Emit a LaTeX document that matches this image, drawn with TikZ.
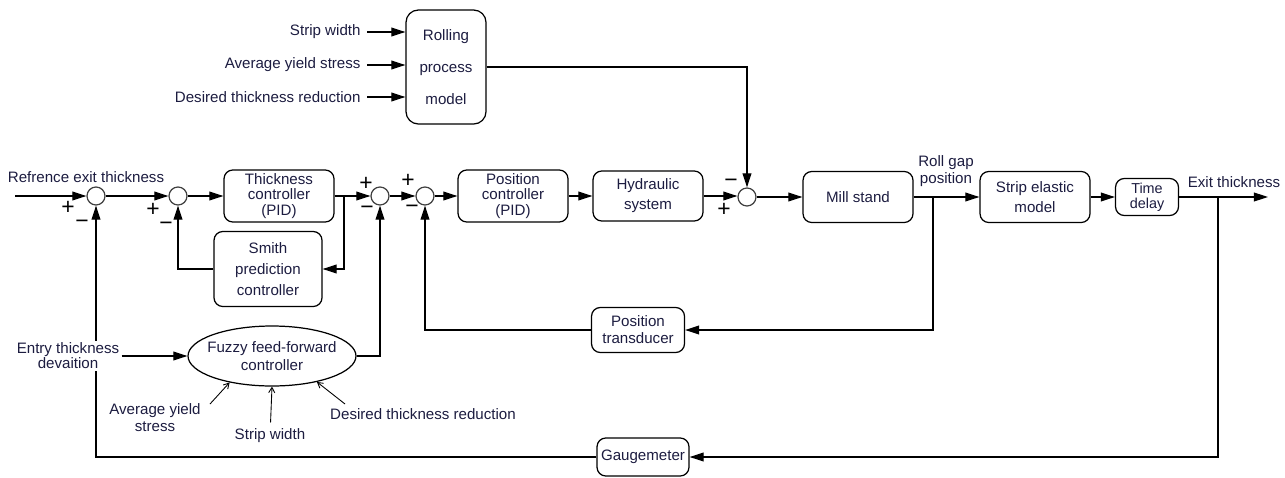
\documentclass[tikz,border=0pt]{standalone}
\usepackage{fontspec}
\setmainfont{Liberation Sans}
\usetikzlibrary{shapes.geometric, arrows.meta, positioning}
\definecolor{txtblue}{RGB}{28,28,64}

\begin{document}
\begin{tikzpicture}[x=0.02cm, y=-0.02cm, line width=0.7pt,
    every node/.style={font=\fontsize{8.6}{9}\selectfont, text=txtblue},
    blk/.style={draw, rounded corners=5pt, align=center, inner sep=1pt},
    sumc/.style={draw=black!75, circle, minimum size=0.36cm, inner sep=0pt},
    sgn/.style={font=\fontsize{13}{13}\selectfont, text=black, inner sep=0pt},
    arr/.style={-{Triangle[length=8pt, width=5pt]}},
    thinarr/.style={-{Straight Barb[length=3pt, width=3.5pt]}, line width=0.5pt}]

    \useasboundingbox (0,0) rectangle (1285,477);

    % Rolling process model
    \node[blk, rounded corners=7pt, minimum width=1.6cm, minimum height=2.28cm,
          font=\fontsize{8.6}{18}\selectfont] (rpm) at (446,67) {Rolling\\process\\model};
    \node[anchor=east] (sw1) at (367,32) {Strip width};
    \node[anchor=east] (ays1) at (367,65) {Average yield stress};
    \node[anchor=east] (dtr1) at (367,97) {Desired thickness reduction};

    % Outer thickness loop
    \node[sumc] (s1) at (96,196) {};
    \node[sumc] (s2) at (178,196) {};
    \node[blk, minimum width=2.2cm, minimum height=1.04cm] (tc) at (279,196) {Thickness\\controller\\(PID)};
    \node[blk, minimum width=2.16cm, minimum height=1.5cm,
          font=\fontsize{8.6}{12}\selectfont] (smith) at (268,269) {Smith\\prediction\\controller};
    \node[sumc] (s3) at (380,196) {};

    % Position loop
    \node[sumc] (s4) at (425,196) {};
    \node[blk, minimum width=2.2cm, minimum height=1.04cm] (pc) at (513,196) {Position\\controller\\(PID)};
    \node[blk, minimum width=2.2cm, minimum height=1.0cm,
          font=\fontsize{8.6}{11.3}\selectfont] (hyd) at (648,196) {Hydraulic\\system};
    \node[sumc] (s5) at (747,197) {};
    \node[blk, minimum width=2.2cm, minimum height=1.02cm] (mill) at (858,197) {Mill stand};
    \node[blk, minimum width=2.2cm, minimum height=1.02cm,
          font=\fontsize{8.6}{11.3}\selectfont] (sem) at (1035,197) {Strip elastic\\model};
    \node[blk, minimum width=1.26cm, minimum height=0.74cm,
          font=\fontsize{8.2}{8.6}\selectfont] (td) at (1147,197) {Time\\delay};
    \node[blk, minimum width=1.86cm, minimum height=0.9cm,
          font=\fontsize{8.6}{9.6}\selectfont] (pt) at (638,330) {Position\\transducer};
    \node[blk, minimum width=1.84cm, minimum height=0.76cm] (gm) at (643,457) {Gaugemeter};

    % Fuzzy feed-forward
    \node[draw, ellipse, minimum width=3.36cm, minimum height=1.2cm, align=center,
          inner xsep=-3.5pt, inner ysep=0pt,
          font=\fontsize{8.6}{10.2}\selectfont] (fuzzy) at (272,356) {Fuzzy feed-forward\\controller};
    \node[align=center, font=\fontsize{8.6}{9.6}\selectfont] (ays2) at (155,418) {Average yield\\stress};
    \node (sw2) at (270,436) {Strip width};
    \node (dtr2) at (423,414) {Desired thickness reduction};

    % Signal labels
    \node (ref) at (86,177) {Refrence exit thickness};
    \node[align=center, font=\fontsize{8.6}{9.6}\selectfont] (rgp) at (946,171) {Roll gap\\position};
    \node (exit) at (1234,182) {Exit thickness};

    % Signs
    \node[sgn] (p1) at (68,208) {+};
    \node[sgn] (m1) at (82,224) {−};
    \node[sgn] (p2) at (153,210) {+};
    \node[sgn] (m2) at (166,226) {−};
    \node[sgn] (p3) at (366,184) {+};
    \node[sgn] (m3) at (367,210) {−};
    \node[sgn] (p4) at (408,181) {+};
    \node[sgn] (m4) at (412,209) {−};
    \node[sgn] (m5) at (731,183) {−};
    \node[sgn] (p5) at (724,210) {+};

    % Connectors
    \coordinate (in) at (15,196);
    \coordinate (out) at (1268,197);
    \coordinate (br1) at (344,196);
    \coordinate (br2) at (933,197);
    \coordinate (br3) at (1218,197);
    \coordinate (ays2a) at (210,404);
    \coordinate (dtr2a) at (345,404);

    \draw[arr] (sw1) -- (sw1 -| rpm.west);
    \draw[arr] (ays1) -- (ays1 -| rpm.west);
    \draw[arr] (dtr1) -- (dtr1 -| rpm.west);
    \draw[arr] (rpm.east) -| (s5.north);

    \draw[arr] (in) -- (s1);
    \draw[arr] (s1) -- (s2);
    \draw[arr] (s2) -- (tc);
    \draw[arr] (tc) -- (s3);
    \draw[arr] (br1) |- (smith.east);
    \draw[arr] (smith.west) -| (s2.south);
    \draw[arr] (s3) -- (s4);
    \draw[arr] (s4) -- (pc);
    \draw[arr] (pc) -- (hyd);
    \draw[arr] (hyd.east) -- (hyd.east -| s5.west);
    \draw[arr] (s5) -- (mill);
    \draw[arr] (mill) -- (sem);
    \draw[arr] (sem) -- (td);
    \draw[arr] (td) -- (out);
    \draw[arr] (br2) |- (pt.east);
    \draw[arr] (pt.west) -| (s4.south);
    \draw[arr] (br3) |- (gm.east);
    \draw[arr] (gm.west) -| (s1.south);
    \draw[arr] (fuzzy.east) -| (s3.south);

    % Entry label sits over the feedback line
    \node[align=center, fill=white, inner sep=1pt,
          font=\fontsize{8.6}{8.5}\selectfont] (entry) at (68,356) {Entry thickness\\devaition};
    \draw[arr] (entry) -- (fuzzy);

    \draw[thinarr] (ays2a) -- (fuzzy.212);
    \draw[thinarr] (sw2) -- (fuzzy.south);
    \draw[thinarr] (dtr2a) -- (fuzzy.330);
\end{tikzpicture}
\end{document}
